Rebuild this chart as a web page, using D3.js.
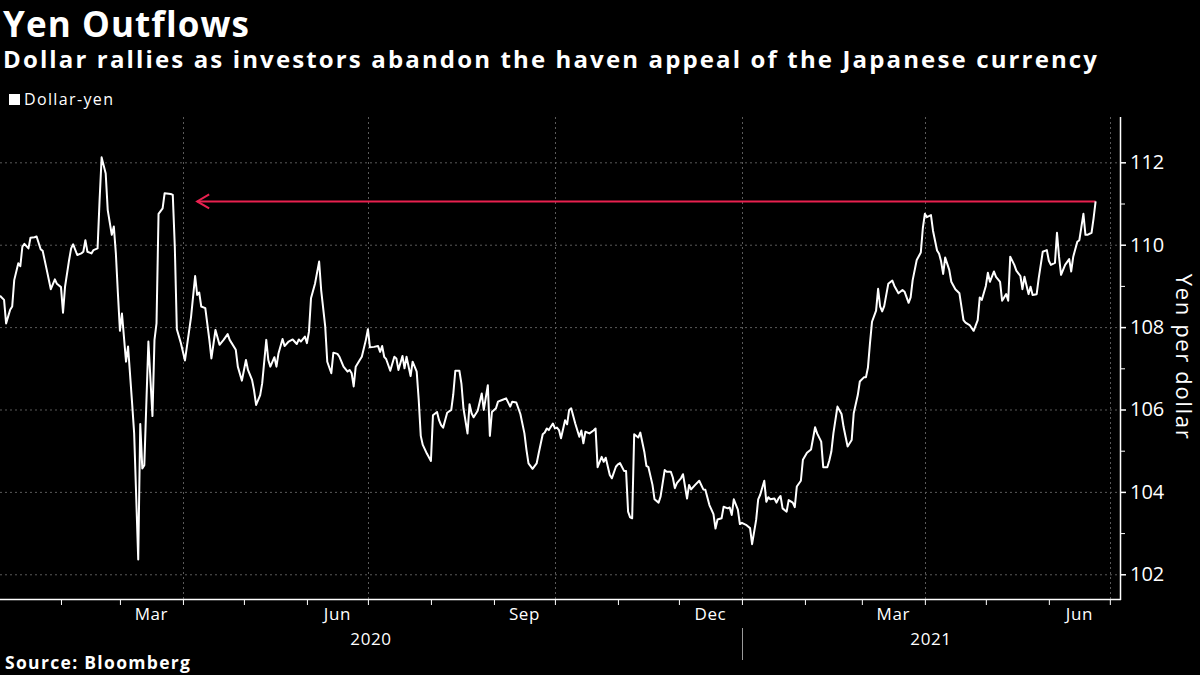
<!DOCTYPE html>
<html>
<head>
<meta charset="utf-8">
<script src="https://cdn.jsdelivr.net/npm/d3@7"></script>
<style>
html,body{margin:0;padding:0;background:#000;}
svg{display:block;}
</style>
</head>
<body>
<svg id="chart" width="1200" height="675"></svg>
<script>
// ---------------- DATA ----------------
const title = "Yen Outflows";
const subtitle = "Dollar rallies as investors abandon the haven appeal of the Japanese currency";
const seriesName = "Dollar-yen";
const yAxisTitle = "Yen per dollar";
const sourceText = "Source: Bloomberg";

const yTicks = [102, 104, 106, 108, 110, 112];
const yMinorTicks = [103, 105, 107, 109, 111];
const monthLabels = ["Mar", "Jun", "Sep", "Dec", "Mar", "Jun"];
const monthLabelDates = ["2020-03-01", "2020-06-01", "2020-09-01", "2020-12-01", "2021-03-01", "2021-06-01"];
const yearLabels = ["2020", "2021"];
const gridDates = ["2020-04-01", "2020-07-01", "2020-10-01", "2021-01-01", "2021-04-01", "2021-07-01"];
const xDomain = ["2020-01-02", "2021-07-06"];
const yDomain = [101.4, 113.1];
const arrowStartDate = "2020-04-08";

const dates = [
"2020-01-02","2020-01-04","2020-01-05","2020-01-07","2020-01-08","2020-01-09","2020-01-11","2020-01-12","2020-01-13","2020-01-14",
"2020-01-16","2020-01-17","2020-01-19","2020-01-20","2020-01-22","2020-01-23","2020-01-25","2020-01-27","2020-01-29","2020-01-30",
"2020-02-01","2020-02-02","2020-02-03","2020-02-05","2020-02-06","2020-02-07","2020-02-09","2020-02-11","2020-02-12","2020-02-13",
"2020-02-14","2020-02-16","2020-02-17","2020-02-19","2020-02-20","2020-02-21","2020-02-23","2020-02-24","2020-02-26","2020-02-27",
"2020-02-28","2020-02-29","2020-03-01","2020-03-02","2020-03-04","2020-03-05","2020-03-07","2020-03-08","2020-03-10","2020-03-11",
"2020-03-12","2020-03-13","2020-03-15","2020-03-17","2020-03-18","2020-03-19","2020-03-20","2020-03-22","2020-03-23","2020-03-26",
"2020-03-27","2020-03-28","2020-03-29","2020-03-31","2020-04-02","2020-04-05","2020-04-07","2020-04-08","2020-04-09","2020-04-10",
"2020-04-12","2020-04-14","2020-04-15","2020-04-17","2020-04-19","2020-04-21","2020-04-23","2020-04-24","2020-04-27","2020-04-28",
"2020-04-30","2020-05-02","2020-05-03","2020-05-05","2020-05-06","2020-05-07","2020-05-09","2020-05-10","2020-05-12","2020-05-13",
"2020-05-14","2020-05-16","2020-05-17","2020-05-18","2020-05-20","2020-05-21","2020-05-23","2020-05-25","2020-05-27","2020-05-28",
"2020-05-29","2020-05-31","2020-06-01","2020-06-02","2020-06-03","2020-06-05","2020-06-07","2020-06-08","2020-06-10","2020-06-11",
"2020-06-13","2020-06-14","2020-06-16","2020-06-17","2020-06-19","2020-06-21","2020-06-22","2020-06-23","2020-06-24","2020-06-25",
"2020-06-27","2020-06-28","2020-06-30","2020-07-01","2020-07-02","2020-07-04","2020-07-06","2020-07-07","2020-07-08","2020-07-09",
"2020-07-10","2020-07-12","2020-07-14","2020-07-15","2020-07-16","2020-07-18","2020-07-19","2020-07-20","2020-07-22","2020-07-23",
"2020-07-25","2020-07-26","2020-07-27","2020-07-28","2020-07-30","2020-08-01","2020-08-02","2020-08-04","2020-08-05","2020-08-06",
"2020-08-07","2020-08-09","2020-08-11","2020-08-12","2020-08-13","2020-08-15","2020-08-16","2020-08-17","2020-08-19","2020-08-20",
"2020-08-21","2020-08-22","2020-08-24","2020-08-26","2020-08-27","2020-08-29","2020-08-30","2020-08-31","2020-09-02","2020-09-03",
"2020-09-05","2020-09-07","2020-09-09","2020-09-10","2020-09-12","2020-09-14","2020-09-16","2020-09-17","2020-09-18","2020-09-20",
"2020-09-22","2020-09-23","2020-09-25","2020-09-26","2020-09-27","2020-09-28","2020-09-30","2020-10-01","2020-10-02","2020-10-03",
"2020-10-04","2020-10-06","2020-10-07","2020-10-08","2020-10-09","2020-10-11","2020-10-13","2020-10-14","2020-10-15","2020-10-16",
"2020-10-18","2020-10-20","2020-10-21","2020-10-22","2020-10-24","2020-10-25","2020-10-26","2020-10-28","2020-10-29","2020-10-31",
"2020-11-01","2020-11-02","2020-11-04","2020-11-05","2020-11-06","2020-11-07","2020-11-08","2020-11-09","2020-11-11","2020-11-12",
"2020-11-14","2020-11-15","2020-11-16","2020-11-18","2020-11-19","2020-11-21","2020-11-22","2020-11-24","2020-11-25","2020-11-27",
"2020-11-28","2020-11-29","2020-11-30","2020-12-02","2020-12-03","2020-12-05","2020-12-06","2020-12-07","2020-12-09","2020-12-11",
"2020-12-13","2020-12-14","2020-12-16","2020-12-18","2020-12-19","2020-12-20","2020-12-22","2020-12-23","2020-12-25","2020-12-26",
"2020-12-27","2020-12-28","2020-12-30","2020-12-31",
"2021-01-01","2021-01-03","2021-01-05","2021-01-06","2021-01-08","2021-01-09","2021-01-10","2021-01-12","2021-01-13","2021-01-14",
"2021-01-15","2021-01-17","2021-01-18","2021-01-19","2021-01-20","2021-01-21","2021-01-23","2021-01-24","2021-01-26","2021-01-27",
"2021-01-28","2021-01-30","2021-01-31","2021-02-02","2021-02-04","2021-02-06","2021-02-07","2021-02-09","2021-02-10","2021-02-12",
"2021-02-13","2021-02-14","2021-02-15","2021-02-17","2021-02-19","2021-02-20","2021-02-21","2021-02-22","2021-02-24","2021-02-25",
"2021-02-27","2021-02-28","2021-03-02","2021-03-03","2021-03-04","2021-03-05","2021-03-06","2021-03-08","2021-03-09","2021-03-10",
"2021-03-11","2021-03-12","2021-03-14","2021-03-16","2021-03-17","2021-03-19","2021-03-21","2021-03-22","2021-03-24","2021-03-25",
"2021-03-26","2021-03-28","2021-03-30","2021-03-31","2021-04-01","2021-04-02","2021-04-04","2021-04-05","2021-04-07","2021-04-08",
"2021-04-09","2021-04-10","2021-04-11","2021-04-13","2021-04-14","2021-04-16","2021-04-18","2021-04-20","2021-04-21","2021-04-23",
"2021-04-25","2021-04-27","2021-04-28","2021-04-29","2021-05-01","2021-05-02","2021-05-03","2021-05-05","2021-05-06","2021-05-08",
"2021-05-09","2021-05-11","2021-05-12","2021-05-13","2021-05-15","2021-05-16","2021-05-18","2021-05-19","2021-05-20","2021-05-22",
"2021-05-23","2021-05-24","2021-05-26","2021-05-27","2021-05-29","2021-05-31","2021-06-01","2021-06-02","2021-06-04","2021-06-05",
"2021-06-06","2021-06-07","2021-06-09","2021-06-11","2021-06-12","2021-06-13","2021-06-15","2021-06-16","2021-06-18","2021-06-19",
"2021-06-20","2021-06-22","2021-06-23","2021-06-24"
];

const values = [
108.76,108.66,108.09,108.42,108.50,109.14,109.55,109.48,109.95,110.02,
109.91,110.17,110.18,110.20,109.89,109.85,109.39,108.92,109.16,109.05,
108.97,108.35,108.98,109.63,109.91,110.01,109.75,109.79,109.83,110.11,
109.83,109.79,109.87,109.91,111.09,112.12,111.73,110.84,110.24,110.44,
109.79,108.82,107.91,108.33,107.16,107.53,106.15,105.42,102.36,105.65,
104.57,104.65,107.65,105.84,107.69,108.09,110.75,110.88,111.25,111.23,
111.21,109.95,107.95,107.61,107.19,108.25,109.24,108.78,108.84,108.50,
108.46,107.69,107.24,107.93,107.57,107.69,107.83,107.69,107.45,107.04,
106.70,107.20,106.96,106.72,106.46,106.11,106.35,106.64,107.69,107.20,
107.04,107.27,107.04,107.36,107.71,107.54,107.65,107.70,107.59,107.70,
107.65,107.77,107.61,107.89,108.70,109.06,109.59,108.90,108.01,107.16,
106.88,107.38,107.35,107.28,107.04,106.92,106.96,106.88,106.56,107.04,
107.20,107.28,107.69,107.95,107.51,107.52,107.54,107.40,107.54,107.28,
107.22,106.94,107.28,107.24,106.96,107.30,107.00,107.28,106.81,107.16,
106.92,106.23,105.36,105.14,104.93,104.75,105.86,105.94,105.74,105.62,
105.56,105.92,105.99,106.37,106.94,106.94,106.63,106.03,105.42,106.13,
105.91,105.81,105.97,106.39,105.99,106.59,105.36,105.94,106.03,106.19,
106.23,106.27,106.07,106.19,106.17,105.89,105.42,105.02,104.69,104.56,
104.69,104.93,105.40,105.44,105.54,105.50,105.66,105.54,105.56,105.50,
105.30,105.74,105.64,105.99,106.03,105.66,105.34,105.49,105.18,105.46,
105.42,105.49,105.54,104.60,104.85,104.73,104.83,104.41,104.33,104.61,
104.67,104.70,104.51,104.51,103.52,103.38,103.36,105.40,105.32,105.44,
104.97,104.63,104.60,104.17,103.82,103.74,103.89,104.53,104.49,104.49,
104.35,104.09,104.21,104.33,104.43,103.84,104.17,104.06,104.17,104.27,
104.06,104.05,103.68,103.46,103.11,103.33,103.36,103.64,103.60,103.62,
103.44,103.82,103.57,103.22,
103.25,103.20,103.12,102.73,103.32,103.82,103.93,104.27,103.76,103.87,
103.82,103.84,103.74,103.84,103.90,103.60,103.52,103.80,103.74,103.63,
104.13,104.27,104.78,104.95,105.03,105.57,105.42,105.22,104.60,104.60,
104.76,104.98,105.42,106.07,105.89,105.58,105.34,105.10,105.26,105.91,
106.35,106.68,106.78,106.78,107.02,107.61,108.13,108.40,108.93,108.50,
108.38,108.51,109.05,109.13,109.00,108.82,108.90,108.86,108.59,108.72,
109.14,109.63,109.81,110.40,110.75,110.67,110.72,110.34,109.86,109.78,
109.59,109.29,109.69,109.39,109.10,108.92,108.82,108.17,108.11,108.05,
107.91,108.17,108.72,108.66,109.00,109.32,109.10,109.35,109.22,109.10,
108.64,108.80,108.64,109.71,109.51,109.37,109.24,108.92,109.22,108.80,
108.98,108.78,108.80,109.18,109.83,109.87,109.61,109.51,109.56,110.29,
109.71,109.27,109.51,109.65,109.35,109.71,110.07,110.11,110.75,110.24,
110.24,110.29,110.64,111.05
];

// ---------------- LAYOUT ----------------
const W = 1200, H = 675;
const plotLeft = 0, plotRight = 1120, plotTop = 117, plotBottom = 599;
const FONT = "'Open Sans', 'Noto Sans', sans-serif";
const gridColor = "#5a5a5a";
const arrowColor = "#e8214f";

const parse = d3.utcParse("%Y-%m-%d");
const data = dates.map((d, i) => ({date: parse(d), value: values[i]}));

const x = d3.scaleUtc().domain(xDomain.map(parse)).range([plotLeft, plotRight]);
const y = d3.scaleLinear().domain(yDomain).range([plotBottom, plotTop]);

const svg = d3.select("#chart");
svg.append("rect").attr("width", W).attr("height", H).attr("fill", "#000");

// spread letters so a text reaches a target width
function spreadTo(sel, target) {
  const s = sel.text();
  const w = sel.node().getComputedTextLength();
  const ls = (target - w) / Math.max(1, s.length - 1);
  sel.attr("letter-spacing", ls);
}

// Titles
const t1 = svg.append("text").text(title)
  .attr("x", 3).attr("y", 37).attr("fill", "#fff")
  .attr("font-family", FONT).attr("font-weight", 700).attr("font-size", 35);
spreadTo(t1, 246);
const t2 = svg.append("text").text(subtitle)
  .attr("x", 3).attr("y", 68).attr("fill", "#fff")
  .attr("font-family", FONT).attr("font-weight", 700).attr("font-size", 24);
spreadTo(t2, 1094);

// Legend
svg.append("rect").attr("x", 9).attr("y", 94).attr("width", 11).attr("height", 11).attr("fill", "#fff");
const lg = svg.append("text").text(seriesName)
  .attr("x", 24).attr("y", 105).attr("fill", "#fff")
  .attr("font-family", FONT).attr("font-size", 16);
spreadTo(lg, 89);

// Grid
const gGrid = svg.append("g");
gGrid.selectAll("line.h").data(yTicks).join("line")
  .attr("x1", plotLeft).attr("x2", plotRight)
  .attr("y1", d => y(d) + 0.5).attr("y2", d => y(d) + 0.5)
  .attr("stroke", gridColor).attr("stroke-width", 1).attr("stroke-dasharray", "2,3");
gGrid.selectAll("line.v").data(gridDates.map(parse)).join("line")
  .attr("x1", d => Math.round(x(d)) + 0.5).attr("x2", d => Math.round(x(d)) + 0.5)
  .attr("y1", plotTop).attr("y2", plotBottom)
  .attr("stroke", gridColor).attr("stroke-width", 1).attr("stroke-dasharray", "2,3");

// X axis
const xAxis = d3.axisBottom(x)
  .tickValues(d3.utcMonth.range(parse("2020-02-01"), parse("2021-07-02")))
  .tickSize(6).tickFormat("");
const gx = svg.append("g").attr("transform", `translate(0,${plotBottom})`).call(xAxis);
gx.select(".domain").attr("stroke", "#fff").attr("stroke-width", 1.5)
  .attr("d", `M${plotLeft},0.5H${plotRight + 1}`);
gx.selectAll(".tick line").attr("stroke", "#fff").attr("stroke-width", 1);

// Month labels centered in month
svg.append("g").selectAll("text").data(monthLabelDates).join("text")
  .attr("x", d => { const s = parse(d); return (x(s) + x(d3.utcMonth.offset(s, 1))) / 2; })
  .attr("y", 620).attr("text-anchor", "middle").attr("fill", "#fff")
  .attr("font-family", FONT).attr("font-size", 17).attr("letter-spacing", 0.6)
  .text((d, i) => monthLabels[i]);

// Year labels centered in visible portion of year
const yearSpans = [[parse(xDomain[0]), parse("2021-01-01")], [parse("2021-01-01"), parse(xDomain[1])]];
svg.append("g").selectAll("text").data(yearSpans).join("text")
  .attr("x", d => (x(d[0]) + x(d[1])) / 2)
  .attr("y", 645).attr("text-anchor", "middle").attr("fill", "#fff")
  .attr("font-family", FONT).attr("font-size", 17).attr("letter-spacing", 0.6)
  .text((d, i) => yearLabels[i]);
// Year separator
svg.append("line")
  .attr("x1", Math.round(x(parse("2021-01-01"))) + 0.5).attr("x2", Math.round(x(parse("2021-01-01"))) + 0.5)
  .attr("y1", 628).attr("y2", 660).attr("stroke", "#9a9a9a").attr("stroke-width", 1);

// Y axis (right)
const yAxis = d3.axisRight(y).tickValues(yTicks).tickSize(6).tickPadding(4).tickFormat(d3.format("d"));
const gy = svg.append("g").attr("transform", `translate(${plotRight},0)`).call(yAxis);
gy.select(".domain").attr("stroke", "#fff").attr("stroke-width", 1.5)
  .attr("d", `M0.5,${plotTop}V${plotBottom + 1}`);
gy.selectAll(".tick line").attr("stroke", "#fff").attr("stroke-width", 1.5);
gy.selectAll(".tick text").attr("fill", "#fff").attr("font-family", FONT).attr("font-size", 20);
gy.selectAll("line.minor").data(yMinorTicks).join("line").attr("class", "minor")
  .attr("x1", 0).attr("x2", 5).attr("y1", d => y(d) + 0.5).attr("y2", d => y(d) + 0.5)
  .attr("stroke", "#fff").attr("stroke-width", 1);

const yt = svg.append("text").text(yAxisTitle)
  .attr("transform", `translate(1176,${(plotTop + plotBottom) / 2 - 1}) rotate(90)`)
  .attr("text-anchor", "middle").attr("fill", "#fff")
  .attr("font-family", FONT).attr("font-size", 22);
spreadTo(yt, 165);

// Red reference arrow
const lastVal = values[values.length - 1];
const ay = y(lastVal);
const ax0 = x(parse(arrowStartDate)), ax1 = x(parse(dates[dates.length - 1]));
svg.append("line").attr("x1", ax0).attr("x2", ax1).attr("y1", ay).attr("y2", ay)
  .attr("stroke", arrowColor).attr("stroke-width", 2);
svg.append("path")
  .attr("d", `M${ax0 + 12},${ay - 7}L${ax0},${ay}L${ax0 + 12},${ay + 7}`)
  .attr("fill", "none").attr("stroke", arrowColor).attr("stroke-width", 2);

// Line
const line = d3.line().x(d => x(d.date)).y(d => y(d.value));
svg.append("path").datum(data).attr("d", line)
  .attr("fill", "none").attr("stroke", "#fff").attr("stroke-width", 2).attr("stroke-linejoin", "round");

// Source
const src = svg.append("text").text(sourceText)
  .attr("x", 5).attr("y", 669).attr("fill", "#fff")
  .attr("font-family", FONT).attr("font-weight", 700).attr("font-size", 17.5);
spreadTo(src, 185);
</script>
</body>
</html>
